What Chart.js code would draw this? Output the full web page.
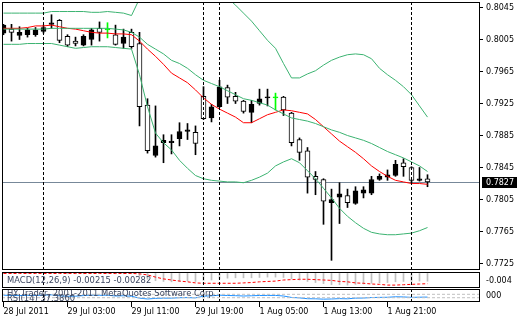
<!DOCTYPE html>
<html>
<head>
<meta charset="utf-8">
<script src="https://cdn.jsdelivr.net/npm/chart.js@4.4.1/dist/chart.umd.min.js"></script>
<style>
  html, body { margin: 0; padding: 0; background: #fff; }
  #wrap { position: relative; width: 520px; height: 320px; overflow: hidden; }
  canvas { position: absolute; left: 0; }
</style>
</head>
<body>
<div id="wrap">
  <canvas id="mainChart" width="520" height="271" style="top:0px"></canvas>
  <canvas id="macdChart" width="520" height="18" style="top:271px"></canvas>
  <canvas id="rsiChart" width="520" height="31" style="top:289px"></canvas>
</div>
<script>
// EURUSD-like H1 bars, one entry per candle
var opens = [0.8013, 0.8018, 0.8010, 0.8011, 0.8011, 0.8015, 0.8024, 0.8029, 0.8009, 0.8003,
  0.7998, 0.8005, 0.8019, 0.8017, 0.8011, 0.8000, 0.8014, 0.8000, 0.7923, 0.7860,
  0.7876, 0.7876, 0.7881, 0.7890, 0.7889, 0.7934, 0.7907, 0.7921, 0.7945, 0.7934,
  0.7928, 0.7914, 0.7925, 0.7932, 0.7932, 0.7933, 0.7913, 0.7880, 0.7866, 0.7834,
  0.7830, 0.7801, 0.7808, 0.7810, 0.7800, 0.7813, 0.7813, 0.7830, 0.7833, 0.7835,
  0.7851, 0.7845, 0.7829, 0.7831];
var highs = [0.8024, 0.8024, 0.8021, 0.8019, 0.8020, 0.8023, 0.8036, 0.8030, 0.8011, 0.8008,
  0.8011, 0.8019, 0.8027, 0.8026, 0.8023, 0.8018, 0.8018, 0.8014, 0.7931, 0.7922,
  0.7886, 0.7886, 0.7901, 0.7900, 0.7897, 0.7946, 0.7924, 0.7954, 0.7948, 0.7939,
  0.7929, 0.7929, 0.7943, 0.7943, 0.7938, 0.7934, 0.7914, 0.7882, 0.7870, 0.7840,
  0.7831, 0.7818, 0.7826, 0.7818, 0.7821, 0.7821, 0.7834, 0.7837, 0.7842, 0.7854,
  0.7856, 0.7846, 0.7845, 0.7836];
var lows = [0.8011, 0.8003, 0.8005, 0.8008, 0.8009, 0.8013, 0.8019, 0.8001, 0.7996, 0.7997,
  0.7997, 0.7998, 0.8003, 0.8007, 0.7998, 0.7994, 0.7994, 0.7897, 0.7863, 0.7858,
  0.7851, 0.7862, 0.7872, 0.7880, 0.7861, 0.7905, 0.7902, 0.7920, 0.7925, 0.7925,
  0.7913, 0.7901, 0.7923, 0.7922, 0.7917, 0.7910, 0.7872, 0.7854, 0.7813, 0.7811,
  0.7774, 0.7729, 0.7775, 0.7795, 0.7799, 0.7807, 0.7811, 0.7829, 0.7829, 0.7834,
  0.7834, 0.7826, 0.7828, 0.7821];
var closes = [0.8023, 0.8014, 0.8014, 0.8017, 0.8017, 0.8020, 0.8026, 0.8004, 0.7998, 0.8000,
  0.8009, 0.8017, 0.8014, 0.8017, 0.7999, 0.8008, 0.7996, 0.7921, 0.7866, 0.7872,
  0.7879, 0.7878, 0.7890, 0.7892, 0.7875, 0.7906, 0.7921, 0.7946, 0.7933, 0.7928,
  0.7915, 0.7924, 0.7931, 0.7933, 0.7932, 0.7917, 0.7876, 0.7864, 0.7833, 0.7830,
  0.7803, 0.7805, 0.7812, 0.7801, 0.7816, 0.7817, 0.7830, 0.7834, 0.7836, 0.7849,
  0.7846, 0.7829, 0.7831, 0.7827];

// Bollinger bands (green) and moving average (red)
var bbUpper = [0.8038, 0.8038, 0.8038, 0.8038, 0.8038, 0.8038, 0.8040, 0.8040, 0.8040, 0.8040,
  0.8040, 0.8039, 0.8039, 0.8040, 0.8039, 0.8038, 0.8035, 0.8056, 0.8072, 0.8082,
  0.8087, 0.8088, 0.8087, 0.8084, 0.8080, 0.8074, 0.8068, 0.8062, 0.8057, 0.8048,
  0.8038, 0.8028, 0.8016, 0.8004, 0.7994, 0.7975, 0.7957, 0.7957, 0.7962, 0.7966,
  0.7973, 0.7979, 0.7983, 0.7986, 0.7987, 0.7986, 0.7981, 0.7969, 0.7961, 0.7954,
  0.7946, 0.7936, 0.7922, 0.7908];
var bbMiddle = [0.8018, 0.8018, 0.8018, 0.8018, 0.8018, 0.8018, 0.8019, 0.8019, 0.8019, 0.8019,
  0.8019, 0.8019, 0.8019, 0.8019, 0.8018, 0.8017, 0.8014, 0.8008, 0.7999, 0.7993,
  0.7987, 0.7979, 0.7975, 0.7969, 0.7961, 0.7954, 0.7950, 0.7946, 0.7941, 0.7936,
  0.7931, 0.7929, 0.7926, 0.7923, 0.7917, 0.7912, 0.7907, 0.7905, 0.7903, 0.7900,
  0.7896, 0.7892, 0.7889, 0.7885, 0.7882, 0.7879, 0.7875, 0.7870, 0.7865, 0.7861,
  0.7857, 0.7852, 0.7847, 0.7840];
var bbLower = [0.7999, 0.7999, 0.7999, 0.8000, 0.8000, 0.8000, 0.8000, 0.7998, 0.7996, 0.7994,
  0.7995, 0.7996, 0.7996, 0.7996, 0.7995, 0.7994, 0.7993, 0.7961, 0.7921, 0.7888,
  0.7876, 0.7867, 0.7854, 0.7844, 0.7835, 0.7831, 0.7829, 0.7828, 0.7827, 0.7827,
  0.7826, 0.7829, 0.7833, 0.7838, 0.7847, 0.7852, 0.7856, 0.7851, 0.7841, 0.7831,
  0.7819, 0.7807, 0.7794, 0.7784, 0.7776, 0.7769, 0.7764, 0.7762, 0.7761, 0.7761,
  0.7762, 0.7763, 0.7766, 0.7770];
var maRed = [0.8019, 0.8019, 0.8019, 0.8020, 0.8022, 0.8022, 0.8023, 0.8021, 0.8019, 0.8018,
  0.8016, 0.8014, 0.8013, 0.8013, 0.8012, 0.8012, 0.8011, 0.8003, 0.7993, 0.7984,
  0.7974, 0.7963, 0.7957, 0.7951, 0.7942, 0.7932, 0.7924, 0.7918, 0.7913, 0.7908,
  0.7901, 0.7901, 0.7906, 0.7911, 0.7914, 0.7917, 0.7916, 0.7914, 0.7912, 0.7905,
  0.7896, 0.7887, 0.7878, 0.7871, 0.7864, 0.7856, 0.7847, 0.7840, 0.7834, 0.7829,
  0.7827, 0.7825, 0.7825, 0.7824];

// MACD(12,26,9): main (histogram) and signal (dashed)
var macdMain = [0.0001, 0.0001, 0.0000, 0.0000, 0.0000, 0.0001, 0.0001, 0.0000, -0.0001, -0.0001,
  -0.0001, 0.0000, 0.0000, 0.0000, -0.0001, -0.0001, -0.0001, -0.0008, -0.0016, -0.0020,
  -0.0022, -0.0023, -0.0022, -0.0021, -0.0022, -0.0019, -0.0018, -0.0015, -0.0013, -0.0012,
  -0.0012, -0.0012, -0.0011, -0.0010, -0.0010, -0.0011, -0.0015, -0.0018, -0.0022, -0.0025,
  -0.0028, -0.0031, -0.0031, -0.0032, -0.0030, -0.0029, -0.0027, -0.0026, -0.0025, -0.0023,
  -0.0022, -0.0022, -0.0021, -0.00215];
var macdSignal = [0.0000, 0.0000, 0.0000, 0.0000, 0.0000, 0.0000, 0.0000, 0.0000, 0.0000, 0.0000,
  0.0000, 0.0000, 0.0000, 0.0000, 0.0000, 0.0000, 0.0000, -0.0001, -0.0004, -0.0010,
  -0.0015, -0.0018, -0.0021, -0.0023, -0.0026, -0.0027, -0.0027, -0.0027, -0.0027, -0.0027,
  -0.0026, -0.0025, -0.0023, -0.0022, -0.0021, -0.0018, -0.0017, -0.0016, -0.0016, -0.0017,
  -0.0018, -0.0019, -0.0022, -0.0023, -0.0026, -0.0027, -0.0029, -0.0030, -0.0032, -0.0032,
  -0.0031, -0.0030, -0.0029, -0.00282];

// RSI(14) with its 70 / 30 levels
var rsi = [60, 56, 55, 57, 57, 60, 64, 52, 47, 48, 55, 62, 58, 60, 50, 53, 47, 25, 15, 22,
  25, 25, 30, 31, 28, 48, 52, 60, 56, 54, 50, 53, 56, 57, 57, 50, 33, 28, 18, 17,
  13, 15, 19, 17, 25, 26, 32, 34, 35, 41, 39, 34, 36, 37.386];
var rsiLevels = [70, 30];

var priceTicks = [0.8045, 0.8005, 0.7965, 0.7925, 0.7885, 0.7845, 0.7805, 0.7765, 0.7725];
var timeLabels = ["28 Jul 2011", "29 Jul 03:00", "29 Jul 11:00", "29 Jul 19:00", "1 Aug 05:00", "1 Aug 13:00", "1 Aug 21:00"];
var timeTickIdx = [0, 8, 16, 24, 32, 40, 48];
var vLineIdx = [5, 25, 27, 51];
var lastPrice = 0.7827;

var xMin = -0.1875, xMax = 59.5625;
var FONT = "'DejaVu Sans', sans-serif";
Chart.defaults.font.family = FONT;
Chart.defaults.font.size = 8;
Chart.defaults.color = "#000";

function isDoji(i) { return opens[i] === closes[i]; }

// keep axis labels from shrinking the plot area
function noPad(scale) {
  scale.paddingTop = 0;
  scale.paddingBottom = 0;
  scale.paddingLeft = 0;
  scale.paddingRight = 0;
}

// frame, vertical dashed lines and captions, drawn from the chart's own scales
function framePlugin(texts) {
  return {
    id: "mtFrame",
    afterDatasetsDraw: function (chart) {
      var ctx = chart.ctx, a = chart.chartArea, xs = chart.scales.x;
      ctx.save();
      ctx.beginPath();
      ctx.rect(a.left, a.top, a.right - a.left, a.bottom - a.top);
      ctx.clip();
      ctx.strokeStyle = "#000";
      ctx.lineWidth = 1;
      ctx.setLineDash([3, 2]);
      vLineIdx.forEach(function (k) {
        var x = Math.floor(xs.getPixelForValue(k)) + 0.5;
        ctx.beginPath();
        ctx.moveTo(x, a.top);
        ctx.lineTo(x, a.bottom);
        ctx.stroke();
      });
      ctx.setLineDash([]);
      (texts || []).forEach(function (t) {
        ctx.font = "8.4px " + FONT;
        ctx.fillStyle = t.color || "#333";
        ctx.textBaseline = "middle";
        ctx.fillText(t.text, a.left + t.dx, a.top + t.dy);
      });
      ctx.restore();
    },
    afterDraw: function (chart) {
      var ctx = chart.ctx, a = chart.chartArea;
      ctx.save();
      ctx.strokeStyle = "#000";
      ctx.lineWidth = 1;
      ctx.strokeRect(a.left + 0.5, a.top + 0.5, a.right - a.left - 1, a.bottom - a.top - 1);
      ctx.restore();
    }
  };
}

var priceLinePlugin = {
  id: "priceLine",
  beforeDatasetsDraw: function (chart) {
    var ctx = chart.ctx, a = chart.chartArea;
    var y = Math.round(chart.scales.y.getPixelForValue(lastPrice)) + 0.5;
    ctx.save();
    ctx.strokeStyle = "#778899";
    ctx.lineWidth = 1;
    ctx.beginPath();
    ctx.moveTo(a.left, y);
    ctx.lineTo(a.right, y);
    ctx.stroke();
    ctx.restore();
  },
  afterDraw: function (chart) {
    var ctx = chart.ctx, a = chart.chartArea;
    var y = Math.round(chart.scales.y.getPixelForValue(lastPrice));
    ctx.save();
    ctx.fillStyle = "#000";
    ctx.fillRect(a.right + 2, y - 5, 35, 11);
    ctx.fillStyle = "#fff";
    ctx.font = "8px " + FONT;
    ctx.textBaseline = "middle";
    ctx.fillText(lastPrice.toFixed(4), a.right + 6, y + 0.5);
    ctx.restore();
  }
};

function xAxis(show) {
  return {
    type: "linear",
    min: xMin,
    max: xMax,
    offset: false,
    display: show,
    grid: { display: show, drawOnChartArea: false, drawTicks: true, tickLength: 5, color: "#000" },
    border: { display: false },
    afterBuildTicks: function (scale) {
      scale.ticks = timeTickIdx.map(function (v) { return { value: v }; });
    },
    afterFit: function (scale) {
      noPad(scale);
      if (show) scale.height = 18;
    },
    ticks: {
      autoSkip: false,
      maxRotation: 0,
      align: "start",
      padding: 0,
      font: { size: 8 },
      callback: function (v, i) { return timeLabels[i]; }
    }
  };
}

var baseOpts = {
  responsive: false,
  devicePixelRatio: 1,
  animation: false,
  events: [],
  plugins: { legend: { display: false }, tooltip: { enabled: false } }
};

// ---------- main price window ----------
new Chart(document.getElementById("mainChart"), {
  type: "bar",
  data: {
    datasets: [
      {
        type: "line", data: bbUpper.map(function (v, i) { return { x: i, y: v }; }),
        borderColor: "#3cb371", borderWidth: 1, pointRadius: 0, tension: 0, clip: 0, order: 1
      },
      {
        type: "line", data: bbMiddle.map(function (v, i) { return { x: i, y: v }; }),
        borderColor: "#3cb371", borderWidth: 1, pointRadius: 0, tension: 0, clip: 0, order: 1
      },
      {
        type: "line", data: bbLower.map(function (v, i) { return { x: i, y: v }; }),
        borderColor: "#3cb371", borderWidth: 1, pointRadius: 0, tension: 0, clip: 0, order: 1
      },
      {
        type: "line", data: maRed.map(function (v, i) { return { x: i, y: v }; }),
        borderColor: "#ff0000", borderWidth: 1, pointRadius: 0, tension: 0, clip: 0, order: 1
      },
      {
        // candle bodies
        data: opens.map(function (o, i) { return { x: i, y: [o, closes[i]] }; }),
        backgroundColor: opens.map(function (o, i) {
          return isDoji(i) ? "#00ff00" : (closes[i] > o ? "#000" : "#fff");
        }),
        borderColor: opens.map(function (o, i) { return isDoji(i) ? "#00ff00" : "#000"; }),
        borderWidth: 1, borderSkipped: false, barThickness: 5, minBarLength: 1,
        grouped: false, clip: 0, order: 2
      },
      {
        // wicks
        data: lows.map(function (l, i) { return { x: i, y: [l, highs[i]] }; }),
        backgroundColor: lows.map(function (l, i) { return isDoji(i) ? "#00ff00" : "#000"; }),
        borderWidth: 0, barThickness: 1, grouped: false, clip: 0, order: 3
      }
    ]
  },
  options: Object.assign({}, baseOpts, {
    layout: { autoPadding: false, padding: { left: 2, top: 2, right: 0, bottom: 1 } },
    scales: {
      x: xAxis(false),
      y: {
        position: "right",
        min: 0.77169,
        max: 0.80519,
        grid: { drawOnChartArea: false, drawTicks: true, tickLength: 3, color: "#000" },
        border: { display: false },
        afterBuildTicks: function (scale) {
          scale.ticks = priceTicks.map(function (v) { return { value: v }; });
        },
        afterFit: function (scale) { noPad(scale); scale.width = 40; },
        ticks: {
          padding: 3,
          font: { size: 8 },
          callback: function (v) { return v.toFixed(4); }
        }
      }
    }
  }),
  plugins: [priceLinePlugin, framePlugin([])]
});

// ---------- MACD window ----------
new Chart(document.getElementById("macdChart"), {
  type: "bar",
  data: {
    datasets: [
      {
        type: "line", data: macdSignal.map(function (v, i) { return { x: i, y: v }; }),
        borderColor: "#ff0000", borderWidth: 1, borderDash: [3, 2], pointRadius: 0, tension: 0,
        clip: 0, order: 1
      },
      {
        data: macdMain.map(function (v, i) { return { x: i, y: v }; }),
        backgroundColor: "#c0c0c0", borderWidth: 0, barThickness: 1, grouped: false,
        clip: 0, order: 2
      }
    ]
  },
  options: Object.assign({}, baseOpts, {
    layout: { autoPadding: false, padding: { left: 2, top: 1, right: 0, bottom: 1 } },
    scales: {
      x: xAxis(false),
      y: {
        position: "right",
        min: -0.0040,
        max: 0.0004,
        grid: { display: false, drawTicks: false },
        border: { display: false },
        afterBuildTicks: function (scale) { scale.ticks = [{ value: -0.004 }]; },
        afterFit: function (scale) { noPad(scale); scale.width = 40; },
        ticks: {
          padding: 6,
          labelOffset: -7,
          font: { size: 8 },
          callback: function (v) { return v.toFixed(3); }
        }
      }
    }
  }),
  plugins: [framePlugin([{ text: "MACD(12,26,9) -0.00215 -0.00282", dx: 5, dy: 9, color: "#3c4660" }])]
});

// ---------- RSI window + time axis ----------
new Chart(document.getElementById("rsiChart"), {
  type: "line",
  data: {
    datasets: [
      {
        data: [{ x: xMin, y: rsiLevels[0] }, { x: xMax, y: rsiLevels[0] }],
        borderColor: "#c0c0c0", borderWidth: 1, borderDash: [3, 2], pointRadius: 0, clip: 0
      },
      {
        data: [{ x: xMin, y: rsiLevels[1] }, { x: xMax, y: rsiLevels[1] }],
        borderColor: "#c0c0c0", borderWidth: 1, borderDash: [3, 2], pointRadius: 0, clip: 0
      },
      {
        data: rsi.map(function (v, i) { return { x: i, y: v }; }),
        borderColor: "#1e90ff", borderWidth: 1, pointRadius: 0, tension: 0, clip: 0
      }
    ]
  },
  options: Object.assign({}, baseOpts, {
    layout: { autoPadding: false, padding: { left: 2, top: 0, right: 0, bottom: 0 } },
    scales: {
      x: xAxis(true),
      y: {
        position: "right",
        min: -20.5,
        max: 132.4,
        grid: { display: false, drawTicks: false },
        border: { display: false },
        afterBuildTicks: function (scale) { scale.ticks = [{ value: 50 }]; },
        afterFit: function (scale) { noPad(scale); scale.width = 40; },
        ticks: {
          padding: 6,
          font: { size: 8 },
          callback: function () { return "000"; }
        }
      }
    }
  }),
  plugins: [framePlugin([
    { text: "HY Trader, 2001-2011 MetaQuotes Software Corp.", dx: 5, dy: 5, color: "#3c4660" },
    { text: "RSI(14) 37.3860", dx: 5, dy: 9.5, color: "#3c4660" }
  ])]
});
</script>
</body>
</html>
